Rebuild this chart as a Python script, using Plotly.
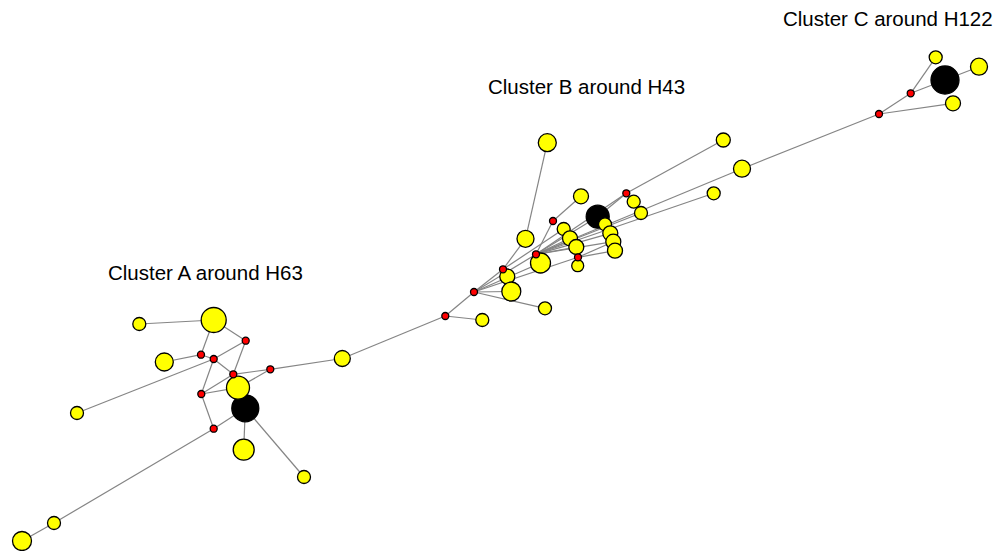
import plotly.graph_objects as go

# ---- data: node layout positions (pixel-like layout coordinates) ----
node_ids = [
    "a_k", "b_k", "c_k",
    "a_y1", "a_y2", "a_y3", "a_y4", "a_y5", "a_y6", "a_y7", "a_y8", "a_y9", "a_y10",
    "b_y1", "b_y2", "b_y3", "b_y4", "b_y5", "b_y6", "b_y7", "b_y8", "b_y9", "b_y10",
    "b_y11", "b_y12", "b_y13", "b_y14", "b_y15", "b_y16", "b_y17", "b_y18", "b_y19",
    "b_y20", "b_y21",
    "c_y1", "c_y2", "c_y3",
    "a_r1", "a_r2", "a_r3", "a_r4", "a_r5", "a_r6", "a_r7",
    "b_r1", "b_r2", "b_r3", "b_r4", "b_r5", "b_r6", "b_r7",
    "c_r1", "c_r2",
]
node_x = [
    245.3, 597.7, 945.0,
    213.7, 139.3, 164.3, 238.0, 243.7, 304.0, 77.0, 342.3, 54.0, 22.0,
    482.3, 507.3, 511.3, 545.0, 540.5, 525.5, 547.3, 581.0, 563.7, 570.0,
    576.3, 577.7, 605.0, 610.3, 613.3, 615.0, 633.7, 641.0, 723.3,
    742.0, 713.7,
    935.7, 979.0, 953.0,
    245.7, 201.0, 213.7, 233.3, 270.3, 201.3, 213.7,
    445.3, 474.0, 503.0, 536.0, 553.0, 578.0, 626.3,
    910.7, 879.0,
]
node_y = [
    408.3, 216.7, 80.0,
    320.0, 324.0, 362.0, 387.7, 449.7, 477.0, 413.0, 358.5, 523.0, 541.0,
    320.0, 276.5, 291.5, 308.3, 263.0, 238.8, 142.7, 196.3, 229.0, 238.3,
    247.0, 265.7, 224.3, 233.3, 241.7, 250.7, 201.7, 213.0, 140.0,
    168.7, 193.3,
    57.3, 66.7, 103.3,
    340.7, 354.7, 359.0, 374.3, 369.3, 394.0, 428.7,
    316.0, 292.0, 269.3, 254.3, 221.0, 257.3, 193.3,
    93.3, 114.0,
]
node_kind = (["hub"] * 3 + ["haplotype"] * 34 + ["median"] * 16)
node_freq = [
    27, 23, 28,
    25, 13, 18, 23, 21, 13, 13, 16, 13, 19,
    13, 15, 19, 13, 20, 17, 18, 15, 13, 15,
    15, 12, 13, 15, 15, 15, 13, 13, 14,
    17, 13,
    13, 17, 15,
    7, 7, 7, 7, 7, 7, 7,
    7, 7, 7, 7, 7, 7, 7,
    7, 7,
]

edges = [
    ("a_y2", "a_y1"), ("a_y1", "a_r2"), ("a_y1", "a_r1"), ("a_y3", "a_r2"),
    ("a_r2", "a_r3"), ("a_y7", "a_r3"), ("a_r3", "a_r1"), ("a_r3", "a_r4"),
    ("a_r3", "a_r6"), ("a_r1", "a_r4"), ("a_r4", "a_r5"), ("a_r5", "a_y4"),
    ("a_r6", "a_r4"), ("a_r6", "a_y4"), ("a_r6", "a_r7"), ("a_r7", "a_k"),
    ("a_r7", "a_y9"), ("a_y9", "a_y10"), ("a_k", "a_y5"), ("a_k", "a_y6"),
    ("a_k", "a_y4"), ("a_r5", "a_y8"), ("a_y8", "b_r1"),
    ("b_r1", "b_y1"), ("b_r1", "b_r2"), ("b_r2", "b_r3"), ("b_r2", "b_y3"),
    ("b_r2", "b_y4"), ("b_r2", "b_r4"), ("b_r2", "b_y5"), ("b_r2", "b_r6"),
    ("b_r3", "b_y2"), ("b_r3", "b_y6"), ("b_r3", "b_y9"), ("b_y6", "b_y7"),
    ("b_r4", "b_r5"), ("b_r5", "b_y8"), ("b_r4", "b_y5"), ("b_r4", "b_y10"),
    ("b_r4", "b_y11"), ("b_r4", "b_k"), ("b_r4", "b_y14"), ("b_r4", "b_y15"),
    ("b_r4", "b_r7"), ("b_r4", "b_y18"), ("b_r4", "b_y20"), ("b_r4", "b_y21"),
    ("b_r6", "b_y12"), ("b_r6", "b_y16"), ("b_r6", "b_y15"), ("b_k", "b_y13"),
    ("b_r7", "b_y17"), ("b_r7", "b_y19"), ("b_r7", "b_k"),
    ("b_y20", "c_r2"),
    ("c_r2", "c_r1"), ("c_r2", "c_y3"), ("c_r1", "c_y1"), ("c_r1", "c_k"),
    ("c_k", "c_y2"),
]

cluster_labels = ["Cluster A around H63", "Cluster B around H43", "Cluster C around H122"]
label_x = [205, 586, 888]
label_y = [272, 86, 18]

# ---- build figure ----
pos = {n: (x, y) for n, x, y in zip(node_ids, node_x, node_y)}
ex, ey = [], []
for s, t in edges:
    ex += [pos[s][0], pos[t][0], None]
    ey += [pos[s][1], pos[t][1], None]

color_map = {"hub": "#000000", "haplotype": "#ffff00", "median": "#ff0000"}
colors = [color_map[k] for k in node_kind]

fig = go.Figure()
fig.add_trace(go.Scatter(x=ex, y=ey, mode="lines",
                         line=dict(color="#858585", width=1.2),
                         hoverinfo="skip", showlegend=False))
fig.add_trace(go.Scatter(x=node_x, y=node_y, mode="markers", text=node_ids,
                         marker=dict(size=node_freq, color=colors, opacity=1,
                                     line=dict(color="black", width=1.3)),
                         showlegend=False))

for t, x, y in zip(cluster_labels, label_x, label_y):
    fig.add_annotation(x=x, y=y, text=t, showarrow=False,
                       font=dict(family="Liberation Sans, Arial, Helvetica", size=20.5, color="black"),
                       xanchor="center", yanchor="middle")

fig.update_layout(
    width=1003, height=551,
    margin=dict(l=0, r=0, t=0, b=0),
    plot_bgcolor="white", paper_bgcolor="white",
    xaxis=dict(range=[0, 1003], visible=False, showgrid=False, zeroline=False),
    yaxis=dict(range=[551, 0], visible=False, showgrid=False, zeroline=False),
)

fig.write_html("out.html",
               config={"displayModeBar": False},
               post_script="document.body.style.margin='0';document.body.style.overflow='hidden';")
